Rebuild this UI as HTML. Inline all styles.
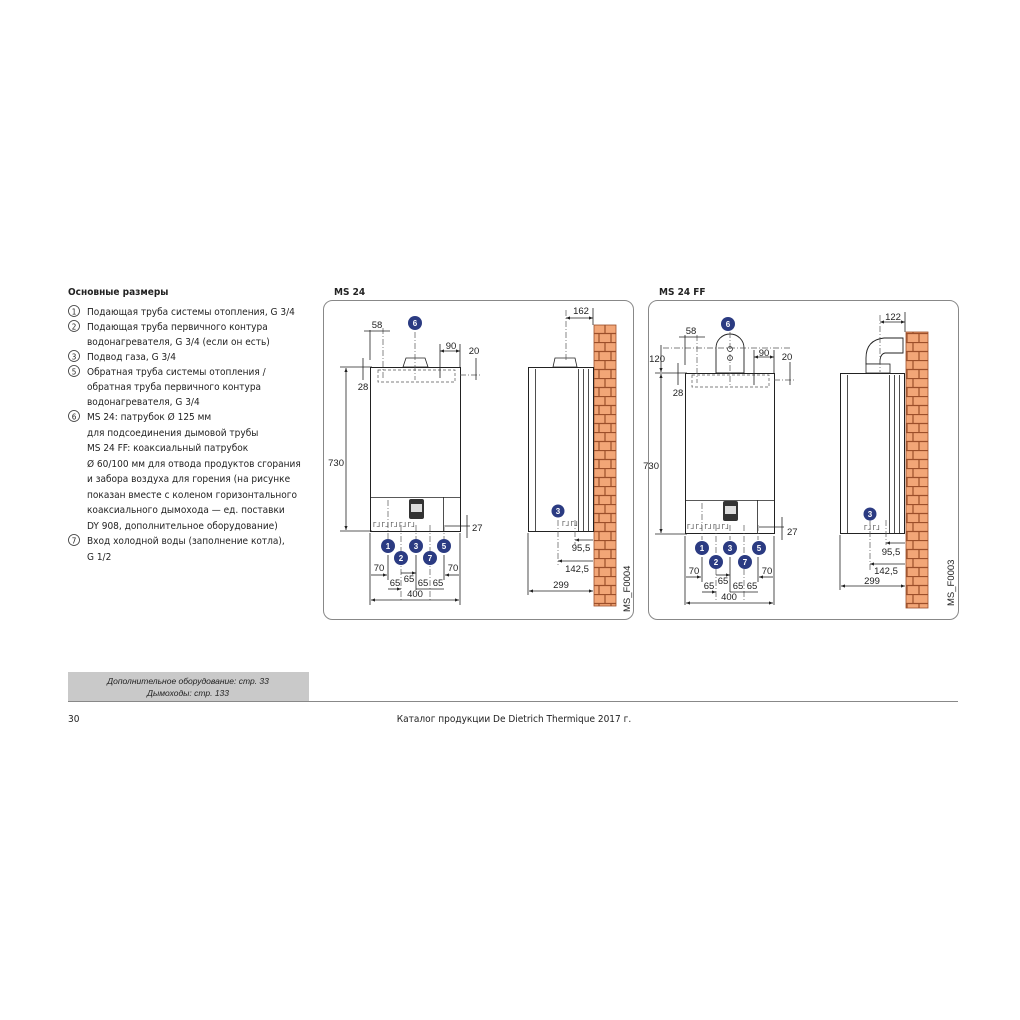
<!DOCTYPE html>
<html><head><meta charset="utf-8"><style>
html,body{margin:0;padding:0;background:#fff;}
svg{display:block;font-family:"Liberation Sans","DejaVu Sans",sans-serif;}
.t{font-size:10px;fill:#222;font-family:"DejaVu Sans Condensed","Liberation Sans",sans-serif;}
.d{font-size:9.5px;fill:#222;}
.ln{stroke:#222;stroke-width:0.8;fill:none;}
.dl{stroke:#555;stroke-width:0.7;fill:none;stroke-dasharray:6 2 1 2;}
.ds{stroke:#555;stroke-width:0.7;fill:none;stroke-dasharray:3 2;}
.c{fill:#2b3b82;}
.cn{font-size:8px;fill:#fff;font-weight:bold;text-anchor:middle;}
</style></head><body>
<svg width="1020" height="1020" viewBox="0 0 1020 1020" xmlns="http://www.w3.org/2000/svg">
<defs>
<marker id="a" viewBox="0 0 10 10" refX="10" refY="5" markerWidth="5" markerHeight="5" orient="auto-start-reverse"><path d="M0,1 L10,5 L0,9z" fill="#222"/></marker>
<pattern id="brick" x="0" y="0" width="22" height="18" patternUnits="userSpaceOnUse">
<rect width="22" height="18" fill="#f2a677"/>
<path d="M0,0.5H22M0,9.5H22M11,0V9M5,9V18M17,9V18" stroke="#9c4f2a" stroke-width="1.2"/>
</pattern>
</defs>

<!-- Left text -->
<text x="68" y="295" class="t" font-weight="bold">Основные размеры</text>
<g class="t">
<circle cx="74" cy="311" r="5.5" fill="none" stroke="#333" stroke-width="0.8"/><text x="74" y="314.5" text-anchor="middle" font-size="8">1</text>
<text x="87" y="315">Подающая труба системы отопления, G 3/4</text>
<circle cx="74" cy="326" r="5.5" fill="none" stroke="#333" stroke-width="0.8"/><text x="74" y="329.5" text-anchor="middle" font-size="8">2</text>
<text x="87" y="330">Подающая труба первичного контура</text>
<text x="87" y="345">водонагревателя, G 3/4 (если он есть)</text>
<circle cx="74" cy="356" r="5.5" fill="none" stroke="#333" stroke-width="0.8"/><text x="74" y="359.5" text-anchor="middle" font-size="8">3</text>
<text x="87" y="360">Подвод газа, G 3/4</text>
<circle cx="74" cy="371" r="5.5" fill="none" stroke="#333" stroke-width="0.8"/><text x="74" y="374.5" text-anchor="middle" font-size="8">5</text>
<text x="87" y="375">Обратная труба системы отопления /</text>
<text x="87" y="390">обратная труба первичного контура</text>
<text x="87" y="405">водонагревателя, G 3/4</text>
<circle cx="74" cy="416" r="5.5" fill="none" stroke="#333" stroke-width="0.8"/><text x="74" y="419.5" text-anchor="middle" font-size="8">6</text>
<text x="87" y="420">MS 24: патрубок Ø 125 мм</text>
<text x="87" y="436">для подсоединения дымовой трубы</text>
<text x="87" y="451">MS 24 FF: коаксиальный патрубок</text>
<text x="87" y="467">Ø 60/100 мм для отвода продуктов сгорания</text>
<text x="87" y="482">и забора воздуха для горения (на рисунке</text>
<text x="87" y="498">показан вместе с коленом горизонтального</text>
<text x="87" y="513">коаксиального дымохода — ед. поставки</text>
<text x="87" y="529">DY 908, дополнительное оборудование)</text>
<circle cx="74" cy="540" r="5.5" fill="none" stroke="#333" stroke-width="0.8"/><text x="74" y="543.5" text-anchor="middle" font-size="8">7</text>
<text x="87" y="544">Вход холодной воды (заполнение котла),</text>
<text x="87" y="560">G 1/2</text>
</g>

<!-- Panel titles -->
<text x="334" y="295" class="t" font-weight="bold">MS 24</text>
<text x="659" y="295" class="t" font-weight="bold">MS 24 FF</text>
<rect x="323.5" y="300.5" width="310" height="319" rx="9" fill="none" stroke="#888" stroke-width="1"/>
<rect x="648.5" y="300.5" width="310" height="319" rx="9" fill="none" stroke="#888" stroke-width="1"/>

<!-- ===== MS 24 front ===== -->
<g>
<path d="M403,367 L406,358 H425 L428,367 Z" fill="#fff" stroke="#222" stroke-width="0.8"/>
<rect x="370.5" y="367.5" width="90" height="164" fill="#fff" stroke="#222" stroke-width="1"/>
<line x1="370" y1="497.5" x2="460" y2="497.5" class="ln"/>
<line x1="443.5" y1="497" x2="443.5" y2="531" class="ln"/>
<rect x="378" y="370" width="77" height="12" class="ds"/>
<rect x="409" y="499" width="15" height="20" rx="2" fill="#333"/>
<rect x="411" y="504" width="11" height="8" fill="#ddd"/>
<text x="373" y="527" font-size="6" fill="#444">ᒥᒧ ᒥᒧ ᒥᒧ ᒥᒧ ᒥᒧ</text>
<line x1="415" y1="332" x2="415" y2="380" class="dl"/>
<line x1="388" y1="500" x2="388" y2="540" class="dl"/>
<line x1="401" y1="525" x2="401" y2="600" class="dl"/>
<line x1="416" y1="525" x2="416" y2="540" class="dl"/>
<line x1="430" y1="525" x2="430" y2="600" class="dl"/>
<line x1="444" y1="525" x2="444" y2="540" class="dl"/>
<line x1="383" y1="328" x2="383" y2="378" class="dl"/>
<line x1="340" y1="367" x2="372" y2="367" class="ln"/>
<line x1="340" y1="531" x2="372" y2="531" class="ln"/>
<line x1="346" y1="368" x2="346" y2="530" class="ln" marker-start="url(#a)" marker-end="url(#a)"/>
<text x="344" y="466" class="d" text-anchor="end">730</text>
<line x1="370" y1="330" x2="370" y2="360" class="ln"/>
<line x1="364" y1="331" x2="390" y2="331" class="ln"/>
<text x="377" y="328" class="d" text-anchor="middle">58</text>
<line x1="363" y1="358" x2="363" y2="380" class="ln"/>
<text x="363" y="390" class="d" text-anchor="middle">28</text>
<line x1="440" y1="344" x2="440" y2="378" class="ln"/>
<line x1="460" y1="344" x2="460" y2="367" class="ln"/>
<line x1="440" y1="351" x2="460" y2="351" class="ln" marker-start="url(#a)" marker-end="url(#a)"/>
<text x="451" y="349" class="d" text-anchor="middle">90</text>
<line x1="460" y1="375" x2="480" y2="375" class="dl"/>
<line x1="476" y1="358" x2="476" y2="380" class="ln"/>
<text x="474" y="354" class="d" text-anchor="middle">20</text>
<line x1="445" y1="526" x2="470" y2="526" class="ln"/>
<line x1="467" y1="515" x2="467" y2="538" class="ln"/>
<text x="472" y="531" class="d">27</text>
<circle cx="415" cy="323" r="7" class="c"/><text x="415" y="326" class="cn">6</text>
<circle cx="388" cy="546" r="7" class="c"/><text x="388" y="549" class="cn">1</text>
<circle cx="401" cy="558" r="7" class="c"/><text x="401" y="561" class="cn">2</text>
<circle cx="416" cy="546" r="7" class="c"/><text x="416" y="549" class="cn">3</text>
<circle cx="430" cy="558" r="7" class="c"/><text x="430" y="561" class="cn">7</text>
<circle cx="444" cy="546" r="7" class="c"/><text x="444" y="549" class="cn">5</text>
<line x1="370" y1="533" x2="370" y2="605" class="ln"/>
<line x1="460" y1="533" x2="460" y2="605" class="ln"/>
<line x1="388" y1="555" x2="388" y2="580" class="ln"/>
<line x1="444" y1="555" x2="444" y2="580" class="ln"/>
<line x1="416" y1="555" x2="416" y2="590" class="ln"/>
<line x1="371" y1="575" x2="387" y2="575" class="ln" marker-end="url(#a)"/>
<text x="379" y="571" class="d" text-anchor="middle">70</text>
<line x1="445" y1="575" x2="459" y2="575" class="ln" marker-start="url(#a)"/>
<text x="453" y="571" class="d" text-anchor="middle">70</text>
<line x1="401" y1="573" x2="416" y2="573" class="ln" marker-end="url(#a)"/>
<text x="409" y="582" class="d" text-anchor="middle">65</text>
<line x1="388" y1="589" x2="401" y2="589" class="ln" marker-end="url(#a)"/>
<text x="395" y="586" class="d" text-anchor="middle">65</text>
<line x1="416" y1="589" x2="444" y2="589" class="ln"/>
<text x="423" y="586" class="d" text-anchor="middle">65</text>
<text x="438" y="586" class="d" text-anchor="middle">65</text>
<line x1="371" y1="600" x2="459" y2="600" class="ln" marker-start="url(#a)" marker-end="url(#a)"/>
<text x="415" y="597" class="d" text-anchor="middle">400</text>
</g>

<!-- MS 24 side -->
<g>
<rect x="594" y="325" width="22" height="281" fill="url(#brick)" stroke="#9c4f2a" stroke-width="0.8"/>
<path d="M553,367 L555,358 H575 L577,367 Z" fill="#fff" stroke="#222" stroke-width="0.8"/>
<rect x="528.5" y="367.5" width="65" height="164" fill="#fff" stroke="#222" stroke-width="1"/>
<line x1="535.5" y1="369" x2="535.5" y2="531" class="ln"/>
<line x1="578.5" y1="369" x2="578.5" y2="531" class="ln"/>
<line x1="583.5" y1="369" x2="583.5" y2="531" class="ln"/>
<line x1="588.5" y1="369" x2="588.5" y2="531" class="ln"/>
<line x1="566" y1="310" x2="566" y2="360" class="dl"/>
<line x1="566" y1="318" x2="593" y2="318" class="ln" marker-start="url(#a)" marker-end="url(#a)"/>
<text x="581" y="314" class="d" text-anchor="middle">162</text>
<line x1="593" y1="308" x2="593" y2="325" class="ln"/>
<line x1="558" y1="520" x2="558" y2="565" class="dl"/>
<line x1="575" y1="520" x2="575" y2="545" class="dl"/>
<circle cx="558" cy="511" r="6.5" class="c"/><text x="558" y="514" class="cn">3</text>
<text x="562" y="526" font-size="6" fill="#444">ᒥᒧ   ᒥᒧ</text>
<line x1="575" y1="540" x2="593" y2="540" class="ln" marker-start="url(#a)"/>
<text x="581" y="551" class="d" text-anchor="middle">95,5</text>
<line x1="558" y1="561" x2="593" y2="561" class="ln" marker-start="url(#a)"/>
<text x="577" y="572" class="d" text-anchor="middle">142,5</text>
<line x1="528" y1="533" x2="528" y2="595" class="ln"/>
<line x1="529" y1="591" x2="593" y2="591" class="ln" marker-start="url(#a)" marker-end="url(#a)"/>
<text x="561" y="588" class="d" text-anchor="middle">299</text>
<text x="0" y="0" class="d" transform="translate(630,612) rotate(-90)">MS_F0004</text>
</g>

<!-- ===== MS 24 FF front ===== -->
<g>
<path d="M716,373 V348 A14,14 0 0 1 744,348 V373 Z" fill="#fff" stroke="#222" stroke-width="0.9"/>
<circle cx="730" cy="349" r="2.5" fill="none" stroke="#222" stroke-width="0.7"/>
<circle cx="730" cy="358" r="2.5" fill="none" stroke="#222" stroke-width="0.7"/>
<rect x="685.5" y="373.5" width="89" height="160" fill="#fff" stroke="#222" stroke-width="1"/>
<line x1="685" y1="500.5" x2="774" y2="500.5" class="ln"/>
<line x1="757.5" y1="500" x2="757.5" y2="533" class="ln"/>
<rect x="692" y="375" width="77" height="12" class="ds"/>
<rect x="723" y="501" width="15" height="20" rx="2" fill="#333"/>
<rect x="725" y="506" width="11" height="8" fill="#ddd"/>
<text x="687" y="529" font-size="6" fill="#444">ᒥᒧ ᒥᒧ ᒥᒧ ᒥᒧ ᒥᒧ</text>
<line x1="730" y1="332" x2="730" y2="385" class="dl"/>
<line x1="663" y1="348" x2="790" y2="348" class="dl"/>
<line x1="702" y1="503" x2="702" y2="540" class="dl"/>
<line x1="716" y1="525" x2="716" y2="600" class="dl"/>
<line x1="730" y1="525" x2="730" y2="540" class="dl"/>
<line x1="744" y1="525" x2="744" y2="600" class="dl"/>
<line x1="758" y1="525" x2="758" y2="540" class="dl"/>
<line x1="697" y1="335" x2="697" y2="383" class="dl"/>
<line x1="655" y1="373" x2="687" y2="373" class="ln"/>
<line x1="655" y1="534" x2="687" y2="534" class="ln"/>
<line x1="661" y1="374" x2="661" y2="533" class="ln" marker-start="url(#a)" marker-end="url(#a)"/>
<text x="659" y="469" class="d" text-anchor="end">730</text>
<line x1="661" y1="345" x2="661" y2="372" class="ln" marker-end="url(#a)"/>
<text x="665" y="362" class="d" text-anchor="end">120</text>
<line x1="685" y1="335" x2="685" y2="365" class="ln"/>
<line x1="679" y1="337" x2="705" y2="337" class="ln"/>
<text x="691" y="334" class="d" text-anchor="middle">58</text>
<line x1="678" y1="363" x2="678" y2="385" class="ln"/>
<text x="678" y="396" class="d" text-anchor="middle">28</text>
<line x1="754" y1="350" x2="754" y2="385" class="ln"/>
<line x1="774" y1="350" x2="774" y2="373" class="ln"/>
<line x1="754" y1="357" x2="774" y2="357" class="ln" marker-start="url(#a)" marker-end="url(#a)"/>
<text x="764" y="356" class="d" text-anchor="middle">90</text>
<line x1="774" y1="380" x2="794" y2="380" class="dl"/>
<line x1="790" y1="362" x2="790" y2="385" class="ln"/>
<text x="787" y="360" class="d" text-anchor="middle">20</text>
<line x1="759" y1="527" x2="784" y2="527" class="ln"/>
<line x1="782" y1="517" x2="782" y2="540" class="ln"/>
<text x="787" y="535" class="d">27</text>
<circle cx="728" cy="324" r="7" class="c"/><text x="728" y="327" class="cn">6</text>
<circle cx="702" cy="548" r="7" class="c"/><text x="702" y="551" class="cn">1</text>
<circle cx="716" cy="562" r="7" class="c"/><text x="716" y="565" class="cn">2</text>
<circle cx="730" cy="548" r="7" class="c"/><text x="730" y="551" class="cn">3</text>
<circle cx="745" cy="562" r="7" class="c"/><text x="745" y="565" class="cn">7</text>
<circle cx="759" cy="548" r="7" class="c"/><text x="759" y="551" class="cn">5</text>
<line x1="685" y1="536" x2="685" y2="605" class="ln"/>
<line x1="774" y1="536" x2="774" y2="605" class="ln"/>
<line x1="702" y1="557" x2="702" y2="582" class="ln"/>
<line x1="758" y1="557" x2="758" y2="582" class="ln"/>
<line x1="730" y1="557" x2="730" y2="592" class="ln"/>
<line x1="686" y1="577" x2="701" y2="577" class="ln" marker-end="url(#a)"/>
<text x="694" y="574" class="d" text-anchor="middle">70</text>
<line x1="759" y1="577" x2="773" y2="577" class="ln" marker-start="url(#a)"/>
<text x="767" y="574" class="d" text-anchor="middle">70</text>
<line x1="716" y1="575" x2="730" y2="575" class="ln" marker-end="url(#a)"/>
<text x="723" y="584" class="d" text-anchor="middle">65</text>
<line x1="702" y1="592" x2="716" y2="592" class="ln" marker-end="url(#a)"/>
<text x="709" y="589" class="d" text-anchor="middle">65</text>
<line x1="730" y1="592" x2="758" y2="592" class="ln"/>
<text x="738" y="589" class="d" text-anchor="middle">65</text>
<text x="752" y="589" class="d" text-anchor="middle">65</text>
<line x1="686" y1="603" x2="773" y2="603" class="ln" marker-start="url(#a)" marker-end="url(#a)"/>
<text x="729" y="600" class="d" text-anchor="middle">400</text>
</g>

<!-- MS 24 FF side -->
<g>
<rect x="906" y="332" width="22" height="276" fill="url(#brick)" stroke="#9c4f2a" stroke-width="0.8"/>
<path d="M866,364 V358 Q866,340 884,338 H903 V353 H885 Q880,354 880,362 V364 Z" fill="#fff" stroke="#222" stroke-width="0.9"/>
<rect x="866" y="364" width="24" height="9" fill="#fff" stroke="#222" stroke-width="0.8"/>
<rect x="840.5" y="373.5" width="64" height="160" fill="#fff" stroke="#222" stroke-width="1"/>
<line x1="847.5" y1="375" x2="847.5" y2="533" class="ln"/>
<line x1="889.5" y1="375" x2="889.5" y2="533" class="ln"/>
<line x1="894.5" y1="375" x2="894.5" y2="533" class="ln"/>
<line x1="899.5" y1="375" x2="899.5" y2="533" class="ln"/>
<line x1="880" y1="315" x2="880" y2="372" class="dl"/>
<line x1="880" y1="322" x2="905" y2="322" class="ln" marker-start="url(#a)" marker-end="url(#a)"/>
<text x="893" y="320" class="d" text-anchor="middle">122</text>
<line x1="905" y1="312" x2="905" y2="332" class="ln"/>
<line x1="870" y1="520" x2="870" y2="570" class="dl"/>
<line x1="886" y1="520" x2="886" y2="545" class="dl"/>
<circle cx="870" cy="514" r="6.5" class="c"/><text x="870" y="517" class="cn">3</text>
<text x="864" y="530" font-size="6" fill="#444">ᒥᒧ  ᒥᒧ</text>
<line x1="886" y1="543" x2="905" y2="543" class="ln" marker-start="url(#a)"/>
<text x="891" y="555" class="d" text-anchor="middle">95,5</text>
<line x1="870" y1="564" x2="905" y2="564" class="ln" marker-start="url(#a)"/>
<text x="886" y="574" class="d" text-anchor="middle">142,5</text>
<line x1="840" y1="535" x2="840" y2="590" class="ln"/>
<line x1="841" y1="586" x2="905" y2="586" class="ln" marker-start="url(#a)" marker-end="url(#a)"/>
<text x="872" y="584" class="d" text-anchor="middle">299</text>
<text x="0" y="0" class="d" transform="translate(954,606) rotate(-90)">MS_F0003</text>
</g>

<!-- Footer -->
<rect x="68" y="672" width="241" height="29" fill="#c9c9c9"/>
<text x="188" y="684" font-size="8.5" font-style="italic" fill="#222" text-anchor="middle">Дополнительное оборудование: стр. 33</text>
<text x="188" y="696" font-size="8.5" font-style="italic" fill="#222" text-anchor="middle">Дымоходы: стр. 133</text>
<line x1="68" y1="701.5" x2="958" y2="701.5" stroke="#888" stroke-width="1"/>
<text x="68" y="722" class="t" font-size="11">30</text>
<text x="514" y="722" class="t" font-size="11" text-anchor="middle">Каталог продукции De Dietrich Thermique 2017 г.</text>
</svg>
</body></html>
